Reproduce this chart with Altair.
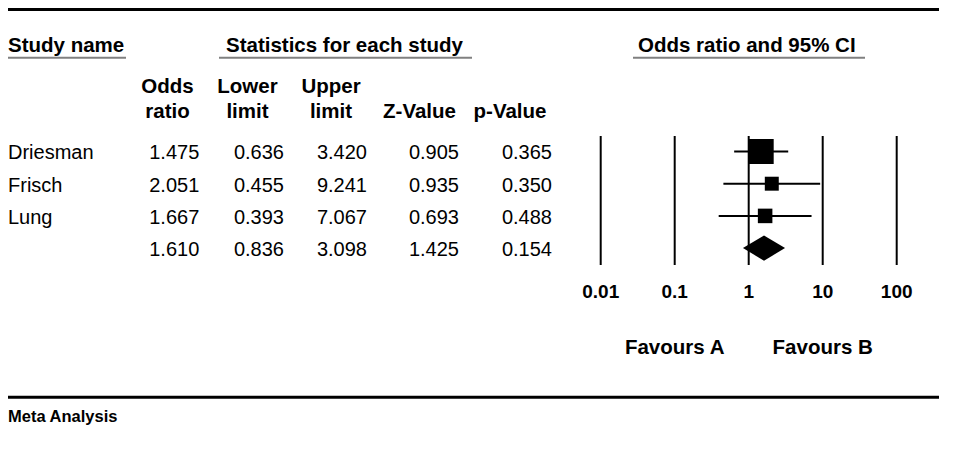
import altair as alt
import pandas as pd

# ---------------- data ----------------
studies = ["Driesman", "Frisch", "Lung", ""]
odds_ratio = [1.475, 2.051, 1.667, 1.610]
lower_limit = [0.636, 0.455, 0.393, 0.836]
upper_limit = [3.420, 9.241, 7.067, 3.098]
z_value = [0.905, 0.935, 0.693, 1.425]
p_value = [0.365, 0.350, 0.488, 0.154]
rel_weight = [60.6, 18.9, 20.5]  # relative weights (%) of the three studies

axis_ticks = [0.01, 0.1, 1, 10, 100]
axis_labels = ["0.01", "0.1", "1", "10", "100"]
favours_text = ["Favours A", "Favours B"]
favours_at = [0.1, 10]

group_headers = ["Study name", "Statistics for each study", "Odds ratio and 95% CI"]
col_header_top = ["Odds", "Lower", "Upper"]
col_header_bottom = ["ratio", "limit", "limit", "Z-Value", "p-Value"]
footer_text = "Meta Analysis"

# ---------------- layout ----------------
FONT = "Liberation Sans"
W, H = 959, 450
row_scale = alt.Scale(domain=[0, 3], range=[143.5, 240.1], nice=False, zero=False)
x_scale = alt.Scale(type="log", domain=[0.01, 100], range=[592.7, 888.7], nice=False)

table = pd.DataFrame({
    "row": list(range(len(studies))),
    "study": studies,
    "or": odds_ratio,
    "lo": lower_limit,
    "hi": upper_limit,
    "or_t": [f"{v:.3f}" for v in odds_ratio],
    "lo_t": [f"{v:.3f}" for v in lower_limit],
    "hi_t": [f"{v:.3f}" for v in upper_limit],
    "z_t": [f"{v:.3f}" for v in z_value],
    "p_t": [f"{v:.3f}" for v in p_value],
})
study_rows = table.iloc[:3].copy()
study_rows["w"] = rel_weight

layers = []

# horizontal frame lines
frame = pd.DataFrame({"x": [0, 0], "x2": [931, 931], "y": [1.5, 389.2]})
layers.append(
    alt.Chart(frame).mark_rule(color="black", strokeWidth=3).encode(
        x=alt.X("x:Q", scale=None), x2="x2:Q", y=alt.Y("y:Q", scale=None)
    )
)

# group headers + underlines
gh = pd.DataFrame({"text": group_headers, "x": [0, 218, 630], "x2": [118, 464, 857],
                   "ux": [0, 211, 625]})
layers.append(
    alt.Chart(gh).mark_text(align="left", baseline="alphabetic", font=FONT, fontSize=20.5,
                            fontWeight="bold", color="black").encode(
        x=alt.X("x:Q", scale=None), y=alt.value(44), text="text:N"
    )
)
layers.append(
    alt.Chart(gh).mark_rule(color="#808080", strokeWidth=2).encode(
        x=alt.X("ux:Q", scale=None), x2="x2:Q", y=alt.value(49.7)
    )
)

# column headers
ch_top = pd.DataFrame({"text": col_header_top, "x": [159.5, 239.5, 323]})
ch_bot = pd.DataFrame({"text": col_header_bottom, "x": [159.5, 239.5, 323, 411.5, 502]})
for d, yv in [(ch_top, 85.3), (ch_bot, 109.5)]:
    layers.append(
        alt.Chart(d).mark_text(align="center", baseline="alphabetic", font=FONT, fontSize=20.5,
                               fontWeight="bold", color="black").encode(
            x=alt.X("x:Q", scale=None), y=alt.value(yv), text="text:N"
        )
    )

# table body
layers.append(
    alt.Chart(table).mark_text(align="left", baseline="alphabetic", dy=7.8, font=FONT,
                               fontSize=20, color="black").encode(
        x=alt.value(0), y=alt.Y("row:Q", scale=row_scale, axis=None), text="study:N"
    )
)
for field, xr in [("or_t", 191.3), ("lo_t", 276), ("hi_t", 359), ("z_t", 451), ("p_t", 544)]:
    layers.append(
        alt.Chart(table).mark_text(align="right", baseline="alphabetic", dy=7.8, font=FONT,
                                   fontSize=20, color="black").encode(
            x=alt.value(xr), y=alt.Y("row:Q", scale=row_scale, axis=None), text=f"{field}:N"
        )
    )

# forest plot: reference lines
ticks = pd.DataFrame({"t": axis_ticks, "label": axis_labels})
layers.append(
    alt.Chart(ticks).mark_rule(color="black", strokeWidth=2).encode(
        x=alt.X("t:Q", scale=x_scale, axis=None), y=alt.value(128), y2=alt.value(257)
    )
)
layers.append(
    alt.Chart(ticks).mark_text(align="center", baseline="alphabetic", font=FONT, fontSize=19,
                               fontWeight="bold", color="black").encode(
        x=alt.X("t:Q", scale=x_scale, axis=None), y=alt.value(290.3), text="label:N"
    )
)
fav = pd.DataFrame({"t": favours_at, "text": favours_text})
layers.append(
    alt.Chart(fav).mark_text(align="center", baseline="alphabetic", font=FONT, fontSize=20.5,
                             fontWeight="bold", color="black").encode(
        x=alt.X("t:Q", scale=x_scale, axis=None), y=alt.value(346), text="text:N"
    )
)

# CI lines
layers.append(
    alt.Chart(study_rows).mark_rule(color="black", strokeWidth=2).encode(
        x=alt.X("lo:Q", scale=x_scale, axis=None), x2="hi:Q",
        y=alt.Y("row:Q", scale=row_scale, axis=None)
    )
)
# weighted squares
layers.append(
    alt.Chart(study_rows).mark_square(color="black", opacity=1, filled=True).encode(
        x=alt.X("or:Q", scale=x_scale, axis=None),
        y=alt.Y("row:Q", scale=row_scale, axis=None),
        size=alt.Size("w:Q", scale=alt.Scale(domain=[0, max(rel_weight)], range=[0, 625]),
                      legend=None),
    )
)
# summary diamond
diamond = pd.DataFrame({
    "x": [lower_limit[3], odds_ratio[3], upper_limit[3]],
    "half": [0, 1, 0],
    "row": [3, 3, 3],
})
layers.append(
    alt.Chart(diamond).transform_calculate(
        y1="datum.row - datum.half * 0.39", y2="datum.row + datum.half * 0.39"
    ).mark_area(color="black", opacity=1, orient="vertical").encode(
        x=alt.X("x:Q", scale=x_scale, axis=None),
        y=alt.Y("y1:Q", scale=row_scale, axis=None),
        y2="y2:Q",
    )
)

# footer
foot = pd.DataFrame({"text": [footer_text]})
layers.append(
    alt.Chart(foot).mark_text(align="left", baseline="alphabetic", font=FONT, fontSize=16.5,
                              fontWeight="bold", color="black").encode(
        x=alt.value(0), y=alt.value(413.7), text="text:N"
    )
)

chart = alt.layer(*layers).properties(
    width=W, height=H, autosize=alt.AutoSizeParams(type="none"), padding=0,
    background="white"
).configure_view(stroke=None)

chart.save("out.html", embed_options={"renderer": "svg", "actions": False})
